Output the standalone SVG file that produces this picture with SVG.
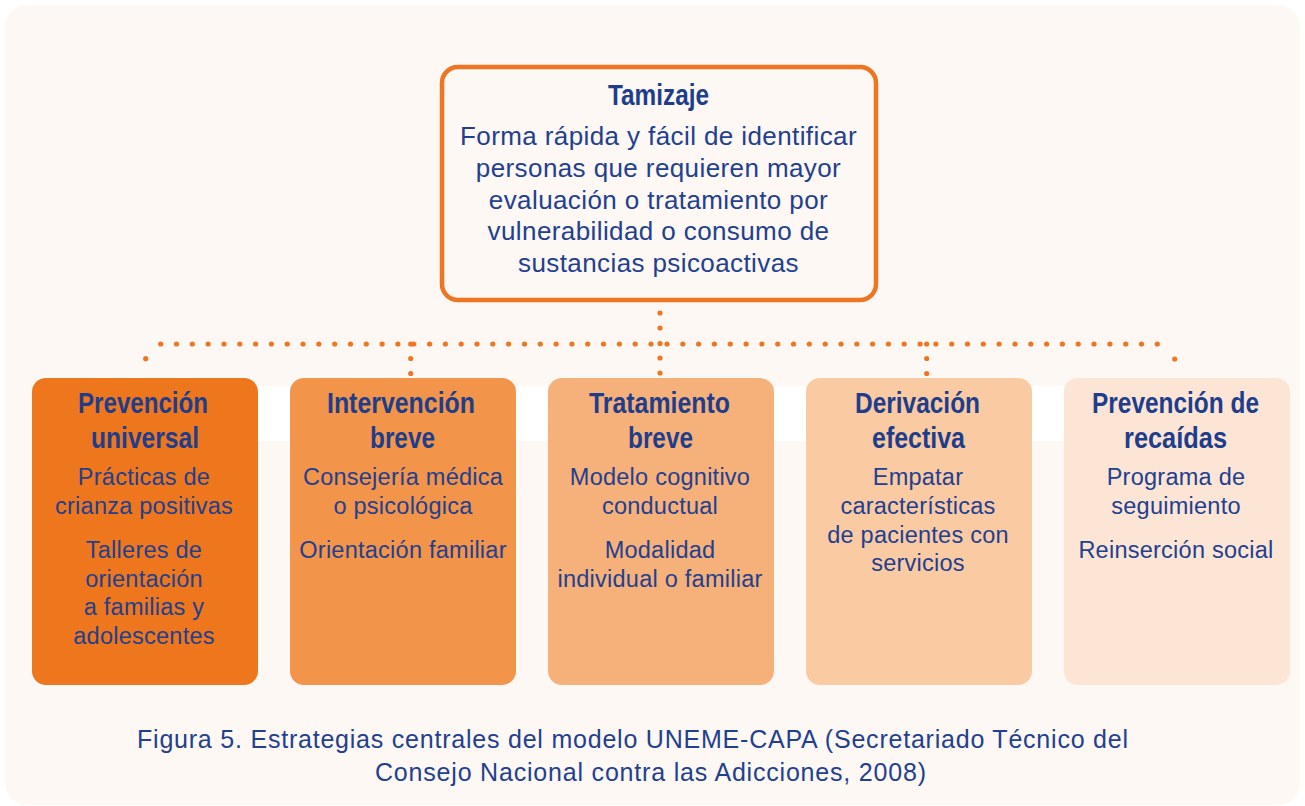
<svg xmlns="http://www.w3.org/2000/svg" width="1305" height="806" viewBox="0 0 1305 806">
<style>
.title{font-family:"Liberation Sans",Arial,sans-serif;font-weight:bold;font-size:29.5px;fill:#1e3e8c;text-anchor:middle}
.body{font-family:"Liberation Sans",Arial,sans-serif;font-size:23.5px;fill:#22408f;text-anchor:middle;letter-spacing:0.25px}
.tbody{font-family:"Liberation Sans",Arial,sans-serif;font-size:26px;fill:#22408f;text-anchor:middle;letter-spacing:0.4px}
.cap{font-family:"Liberation Sans",Arial,sans-serif;font-size:25px;fill:#22408f;text-anchor:middle}
.dot{fill:#ee7623}
</style>
<rect x="0" y="0" width="1305" height="806" fill="#ffffff"/>
<rect x="5" y="5" width="1295" height="800" rx="22" fill="#fdf8f4"/>
<g fill="#ffffff">
<rect x="258" y="386" width="32" height="55"/>
<rect x="516" y="386" width="32" height="55"/>
<rect x="774" y="386" width="32" height="55"/>
<rect x="1032" y="386" width="32" height="55"/>
</g>
<g id="connectors" class="dot">
<circle cx="660" cy="313" r="2.6"/><circle cx="660" cy="328" r="2.6"/><circle cx="660" cy="343.5" r="2.6"/><circle cx="660" cy="358" r="2.6"/><circle cx="660" cy="373" r="2.6"/>
<circle cx="145.7" cy="358.7" r="2.6"/>
<circle cx="160.7" cy="344" r="2.6"/><circle cx="176.5" cy="344" r="2.6"/><circle cx="192.3" cy="344" r="2.6"/><circle cx="208.1" cy="344" r="2.6"/><circle cx="224" cy="344" r="2.6"/><circle cx="239.8" cy="344" r="2.6"/><circle cx="255.6" cy="344" r="2.6"/><circle cx="271.4" cy="344" r="2.6"/><circle cx="287.2" cy="344" r="2.6"/><circle cx="303" cy="344" r="2.6"/><circle cx="318.9" cy="344" r="2.6"/><circle cx="334.7" cy="344" r="2.6"/><circle cx="350.5" cy="344" r="2.6"/><circle cx="366.3" cy="344" r="2.6"/><circle cx="382.1" cy="344" r="2.6"/><circle cx="397.9" cy="344" r="2.6"/><circle cx="413.7" cy="344" r="2.6"/><circle cx="429.6" cy="344" r="2.6"/><circle cx="445.4" cy="344" r="2.6"/><circle cx="461.2" cy="344" r="2.6"/><circle cx="477" cy="344" r="2.6"/><circle cx="492.8" cy="344" r="2.6"/><circle cx="508.6" cy="344" r="2.6"/><circle cx="524.5" cy="344" r="2.6"/><circle cx="540.3" cy="344" r="2.6"/><circle cx="556.1" cy="344" r="2.6"/><circle cx="571.9" cy="344" r="2.6"/><circle cx="587.7" cy="344" r="2.6"/><circle cx="603.5" cy="344" r="2.6"/><circle cx="619.4" cy="344" r="2.6"/><circle cx="635.2" cy="344" r="2.6"/><circle cx="651" cy="344" r="2.6"/>
<circle cx="667" cy="344" r="2.6"/><circle cx="682.8" cy="344" r="2.6"/><circle cx="698.6" cy="344" r="2.6"/><circle cx="714.4" cy="344" r="2.6"/><circle cx="730.3" cy="344" r="2.6"/><circle cx="746.1" cy="344" r="2.6"/><circle cx="761.9" cy="344" r="2.6"/><circle cx="777.7" cy="344" r="2.6"/><circle cx="793.5" cy="344" r="2.6"/><circle cx="809.3" cy="344" r="2.6"/><circle cx="825.2" cy="344" r="2.6"/><circle cx="841" cy="344" r="2.6"/><circle cx="856.8" cy="344" r="2.6"/><circle cx="872.6" cy="344" r="2.6"/><circle cx="888.4" cy="344" r="2.6"/><circle cx="904.2" cy="344" r="2.6"/><circle cx="920.1" cy="344" r="2.6"/><circle cx="935.9" cy="344" r="2.6"/><circle cx="951.7" cy="344" r="2.6"/><circle cx="967.5" cy="344" r="2.6"/><circle cx="983.3" cy="344" r="2.6"/><circle cx="999.1" cy="344" r="2.6"/><circle cx="1015" cy="344" r="2.6"/><circle cx="1030.8" cy="344" r="2.6"/><circle cx="1046.6" cy="344" r="2.6"/><circle cx="1062.4" cy="344" r="2.6"/><circle cx="1078.2" cy="344" r="2.6"/><circle cx="1094" cy="344" r="2.6"/><circle cx="1109.9" cy="344" r="2.6"/><circle cx="1125.7" cy="344" r="2.6"/><circle cx="1141.5" cy="344" r="2.6"/><circle cx="1157.3" cy="344" r="2.6"/>
<circle cx="1174.7" cy="359" r="2.6"/>
<circle cx="410.7" cy="344" r="2.6"/><circle cx="410.7" cy="358.5" r="2.6"/><circle cx="410.7" cy="373.5" r="2.6"/>
<circle cx="926.7" cy="344" r="2.6"/><circle cx="926.7" cy="358.5" r="2.6"/><circle cx="926.7" cy="373.5" r="2.6"/>
</g>
<g id="tamizaje">
<rect x="442" y="67" width="434" height="233" rx="16" fill="#fdf8f4" stroke="#ee7623" stroke-width="4.5"/>
<text class="title" x="658.5" y="104.5" textLength="101" lengthAdjust="spacingAndGlyphs">Tamizaje</text>
<text class="tbody" x="658.5" y="145">Forma rápida y fácil de identificar</text>
<text class="tbody" x="658.5" y="177">personas que requieren mayor</text>
<text class="tbody" x="658.5" y="208.5">evaluación o tratamiento por</text>
<text class="tbody" x="658.5" y="240">vulnerabilidad o consumo de</text>
<text class="tbody" x="658.5" y="272">sustancias psicoactivas</text>
</g>
<g id="prevencion-universal">
<rect x="32" y="378" width="226" height="307" rx="14" fill="#ee761d"/>
<text class="title" x="143" y="413" textLength="130" lengthAdjust="spacingAndGlyphs">Prevención</text>
<text class="title" x="145" y="448" textLength="108" lengthAdjust="spacingAndGlyphs">universal</text>
<text class="body" x="144" y="485">Prácticas de</text>
<text class="body" x="144" y="513.5">crianza positivas</text>
<text class="body" x="144" y="558">Talleres de</text>
<text class="body" x="144" y="586.5">orientación</text>
<text class="body" x="144" y="615">a familias y</text>
<text class="body" x="144" y="643.5">adolescentes</text>
</g>
<g id="intervencion-breve">
<rect x="290" y="378" width="226" height="307" rx="14" fill="#f29449"/>
<text class="title" x="401" y="413" textLength="148" lengthAdjust="spacingAndGlyphs">Intervención</text>
<text class="title" x="402.5" y="448" textLength="65" lengthAdjust="spacingAndGlyphs">breve</text>
<text class="body" x="403" y="485">Consejería médica</text>
<text class="body" x="403" y="513.5">o psicológica</text>
<text class="body" x="403" y="558">Orientación familiar</text>
</g>
<g id="tratamiento-breve">
<rect x="548" y="378" width="226" height="307" rx="14" fill="#f6b079"/>
<text class="title" x="659.5" y="413" textLength="141" lengthAdjust="spacingAndGlyphs">Tratamiento</text>
<text class="title" x="660.5" y="448" textLength="65" lengthAdjust="spacingAndGlyphs">breve</text>
<text class="body" x="660" y="485">Modelo cognitivo</text>
<text class="body" x="660" y="513.5">conductual</text>
<text class="body" x="660" y="558">Modalidad</text>
<text class="body" x="660" y="586.5">individual o familiar</text>
</g>
<g id="derivacion-efectiva">
<rect x="806" y="378" width="226" height="307" rx="14" fill="#facaa3"/>
<text class="title" x="917.5" y="413" textLength="125" lengthAdjust="spacingAndGlyphs">Derivación</text>
<text class="title" x="918.5" y="448" textLength="93" lengthAdjust="spacingAndGlyphs">efectiva</text>
<text class="body" x="918" y="485">Empatar</text>
<text class="body" x="918" y="513.5">características</text>
<text class="body" x="918" y="542.5">de pacientes con</text>
<text class="body" x="918" y="571">servicios</text>
</g>
<g id="prevencion-recaidas">
<rect x="1064" y="378" width="226" height="307" rx="14" fill="#fde5d5"/>
<text class="title" x="1175.5" y="413" textLength="167" lengthAdjust="spacingAndGlyphs">Prevención de</text>
<text class="title" x="1175.5" y="448" textLength="103" lengthAdjust="spacingAndGlyphs">recaídas</text>
<text class="body" x="1176" y="485">Programa de</text>
<text class="body" x="1176" y="513.5">seguimiento</text>
<text class="body" x="1176" y="558">Reinserción social</text>
</g>
<g id="caption">
<text class="cap" x="632.5" y="748" textLength="991" lengthAdjust="spacing">Figura 5. Estrategias centrales del modelo UNEME-CAPA (Secretariado Técnico del</text>
<text class="cap" x="650.5" y="781" textLength="551" lengthAdjust="spacing">Consejo Nacional contra las Adicciones, 2008)</text>
</g>
</svg>
